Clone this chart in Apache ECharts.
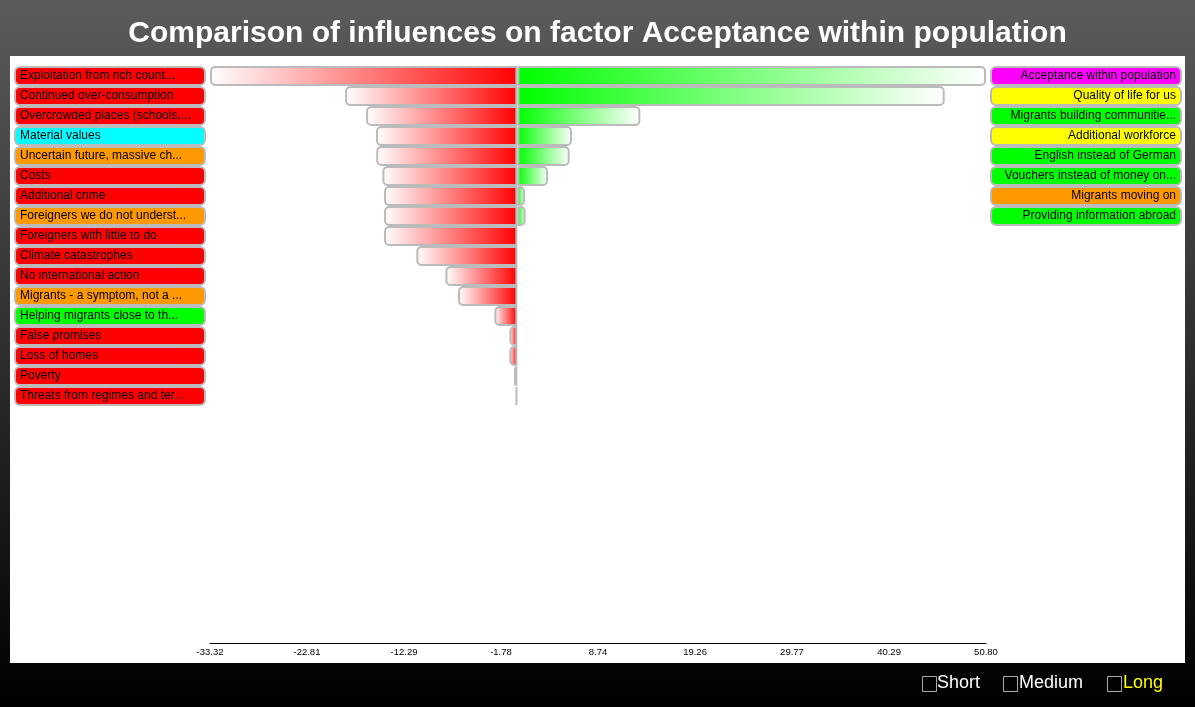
<!DOCTYPE html>
<html>
<head>
<meta charset="utf-8">
<title>Comparison of influences</title>
<script src="https://cdn.jsdelivr.net/npm/echarts@6/dist/echarts.min.js"></script>
<style>
  html, body { margin: 0; padding: 0; }
  #chart { width: 1195px; height: 707px; }
</style>
</head>
<body>
<div id="chart"></div>
<script>
// factors weakening the target (left side), strongest first
var leftFactors = [
  'Exploitation from rich count...', 'Continued over-consumption', 'Overcrowded places (schools,...',
  'Material values', 'Uncertain future, massive ch...', 'Costs', 'Additional crime',
  'Foreigners we do not underst...', 'Foreigners with little to do', 'Climate catastrophes',
  'No international action', 'Migrants - a symptom, not a ...', 'Helping migrants close to th...',
  'False promises', 'Loss of homes', 'Poverty', 'Threats from regimes and ter...'
]
var leftColors = [
  'red', 'red', 'red', 'cyan', 'orange', 'red', 'red', 'orange', 'red', 'red',
  'red', 'orange', 'green', 'red', 'red', 'red', 'red'
]
var leftValues = [
  -33.32, -18.68, -16.40, -15.32, -15.30, -14.63, -14.45, -14.45, -14.45,
  -10.95, -7.80, -6.43, -2.49, -0.87, -0.87, -0.36, -0.20
]

// factors strengthening the target (right side)
var rightFactors = [
  'Acceptance within population', 'Quality of life for us', 'Migrants building communitie...',
  'Additional workforce', 'English instead of German', 'Vouchers instead of money on...',
  'Migrants moving on', 'Providing information abroad'
]
var rightColors = ['magenta', 'yellow', 'green', 'yellow', 'green', 'green', 'orange', 'green']
var rightValues = [50.80, 46.32, 13.33, 5.93, 5.67, 3.33, 0.83, 0.90]

var xTicks = [-33.32, -22.81, -12.29, -1.78, 8.74, 19.26, 29.77, 40.29, 50.80]

var palette = {
  red: '#ff0000',
  cyan: '#00ffff',
  orange: '#ff9900',
  green: '#00ff00',
  magenta: '#ff00ff',
  yellow: '#ffff00'
}

var font = 'Liberation Sans, Arial, sans-serif'

function boxStyles(align) {
  var rich = {}
  Object.keys(palette).forEach(function (k) {
    rich[k] = {
      width: 180,
      height: 14,
      lineHeight: 14,
      padding: [1, 4, 1, 4],
      backgroundColor: palette[k],
      borderColor: '#bbbbbb',
      borderWidth: 2,
      borderRadius: 4,
      align: align,
      fontSize: 12,
      color: '#000',
      fontFamily: font
    }
  })
  return rich
}

var chart = echarts.init(document.getElementById('chart'))

chart.setOption({
  backgroundColor: new echarts.graphic.LinearGradient(0, 0, 0, 1, [
    { offset: 0, color: '#5c5c5c' },
    { offset: 1, color: '#000000' }
  ]),
  animation: false,
  title: {
    text: 'Comparison of influences on factor Acceptance within population',
    left: 'center',
    top: 14,
    textStyle: {
      color: '#fff',
      fontSize: 30,
      fontWeight: 'bold',
      fontFamily: font
    }
  },
  graphic: [
    {
      type: 'rect',
      z: -10,
      silent: true,
      shape: { x: 10, y: 56, width: 1175, height: 607 },
      style: { fill: '#fff' }
    },
    {
      type: 'group',
      left: 920,
      top: 674,
      children: [
        { type: 'rect', shape: { x: 0.5, y: 2.5, width: 14, height: 15 }, style: { fill: 'none', stroke: '#aaa', lineWidth: 1 } },
        { type: 'text', x: 15, y: 0, style: { text: 'Short', fill: '#fff', fontSize: 18, fontFamily: font } },
        { type: 'rect', shape: { x: 81.5, y: 2.5, width: 14, height: 15 }, style: { fill: 'none', stroke: '#aaa', lineWidth: 1 } },
        { type: 'text', x: 97, y: 0, style: { text: 'Medium', fill: '#fff', fontSize: 18, fontFamily: font } },
        { type: 'rect', shape: { x: 185.5, y: 2.5, width: 14, height: 15 }, style: { fill: 'none', stroke: '#aaa', lineWidth: 1 } },
        { type: 'text', x: 201, y: 0, style: { text: 'Long', fill: '#ffff00', fontSize: 18, fontFamily: font } }
      ]
    }
  ],
  grid: {
    left: 210,
    right: 209,
    top: 66,
    height: 340
  },
  xAxis: {
    type: 'value',
    min: -33.32,
    max: 50.80,
    offset: 237,
    axisLine: { show: true, onZero: false, lineStyle: { color: '#000', width: 1 } },
    axisTick: { show: false },
    splitLine: { show: false },
    axisLabel: {
      customValues: xTicks,
      margin: 4,
      fontSize: 9.5,
      color: '#000',
      fontFamily: font,
      formatter: function (v) { return v.toFixed(2) }
    }
  },
  yAxis: [
    {
      type: 'category',
      inverse: true,
      data: leftFactors,
      axisLine: { show: false, onZero: false },
      axisTick: { show: false },
      axisLabel: {
        margin: 6,
        interval: 0,
        formatter: function (v, i) { return '{' + leftColors[i] + '|' + v + '}' },
        rich: boxStyles('left')
      }
    },
    {
      type: 'category',
      inverse: true,
      position: 'right',
      data: leftFactors,
      axisLine: { show: false, onZero: false },
      axisTick: { show: false },
      axisLabel: {
        margin: 6,
        interval: 0,
        formatter: function (v, i) {
          return i < rightFactors.length ? '{' + rightColors[i] + '|' + rightFactors[i] + '}' : ''
        },
        rich: boxStyles('right')
      }
    }
  ],
  series: [
    {
      name: 'negative',
      type: 'bar',
      yAxisIndex: 0,
      barWidth: 20,
      barGap: '-100%',
      data: leftValues,
      itemStyle: {
        color: new echarts.graphic.LinearGradient(0, 0, 1, 0, [
          { offset: 0, color: '#ffffff' },
          { offset: 1, color: '#ff0000' }
        ]),
        borderColor: '#bbbbbb',
        borderWidth: 2,
        borderRadius: [4, 0, 0, 4]
      }
    },
    {
      name: 'positive',
      type: 'bar',
      yAxisIndex: 0,
      barWidth: 20,
      barGap: '-100%',
      data: rightValues,
      itemStyle: {
        color: new echarts.graphic.LinearGradient(0, 0, 1, 0, [
          { offset: 0, color: '#00ff00' },
          { offset: 1, color: '#ffffff' }
        ]),
        borderColor: '#bbbbbb',
        borderWidth: 2,
        borderRadius: [0, 4, 4, 0]
      }
    }
  ]
})
</script>
</body>
</html>
